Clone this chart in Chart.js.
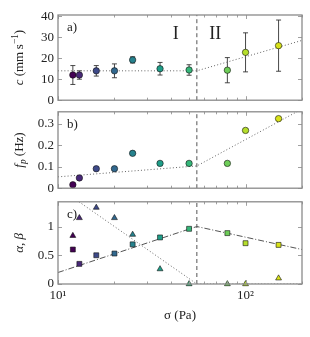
<!DOCTYPE html>
<html>
<head>
<meta charset="utf-8">
<script src="https://cdn.jsdelivr.net/npm/chart.js@4.4.0/dist/chart.umd.min.js"></script>
<style>
  html, body { margin: 0; padding: 0; background: #fff; }
  #wrap { position: relative; width: 310px; height: 337px; }
  canvas { position: absolute; left: 0; }
</style>
</head>
<body>
<div id="wrap">
  <canvas id="panelA" width="310" height="112" style="top:0px"></canvas>
  <canvas id="panelB" width="310" height="100" style="top:100px"></canvas>
  <canvas id="panelC" width="310" height="147" style="top:190px"></canvas>
</div>
<script>
// stress of each run (Pa) and its colour (viridis)
var sigma = [12, 13, 16, 20, 25, 35, 50, 80, 100, 150];
var colors = ['#440154', '#482878', '#3e4a89', '#31688e', '#26828e', '#1f9e89', '#35b779', '#6ece58', '#b5de2b', '#d8e219'];

// a) speed c (mm/s) with error bars
var cVal = [12, 12, 14, 14, 19.2, 15, 14.4, 14.3, 22.8, 26];
var cErr = [4.5, 2, 2.5, 3.3, 1.5, 3, 2.5, 6, 9.3, 12.2];
// b) peak frequency f_p (Hz)
var fpVal = [0.016, 0.048, 0.091, 0.091, 0.163, 0.116, 0.116, 0.116, 0.27, 0.325];
// c) alpha (squares) and beta (triangles)
var alphaVal = [0.6, 0.35, 0.5, 0.53, 0.69, 0.81, 0.96, 0.885, 0.71, 0.68];
var betaVal = [0.84, 1.15, 1.33, 1.15, 0.86, 0.26, 0, 0, 0, 0.1];

// piecewise fits, break at sigmaCross
var sigmaCross = 55;
var fitX = [10, 55, 200];
var cFit = [14, 14, 28.5];
var fpFit = [0.053, 0.104, 0.37];
var alphaFit = [0.2, 1.0, 0.6];
var betaFit = [1.685, 0, 0];

// ticks
var xMajor = [10, 100];
var xMinor = [20, 30, 40, 50, 60, 70, 80, 90, 200];
var cTicks = [0, 10, 20, 30, 40];
var fpTicks = [0, 0.1, 0.2, 0.3];
var abTicks = [0, 0.5, 1];

var SERIF = '"Liberation Serif", "DejaVu Serif", serif';

function pts(ys) {
  return sigma.map(function (s, i) { return {x: s, y: ys[i]}; });
}
function fitPts(ys) {
  return fitX.map(function (s, i) { return {x: s, y: ys[i]}; });
}

// frame + inward ticks, pgfplots style
function frameTicks(yTicks) {
  return {
    id: 'frameTicks',
    afterDatasetsDraw: function (chart) {
      var ctx = chart.ctx, a = chart.chartArea;
      var xs = chart.scales.x, ys = chart.scales.y;
      ctx.save();
      ctx.strokeStyle = '#a0a0a0';
      ctx.lineWidth = 1;
      ctx.beginPath();
      xMajor.concat(xMinor).forEach(function (v) {
        var len = xMajor.indexOf(v) >= 0 ? 4 : 2.5;
        var px = Math.round(xs.getPixelForValue(v)) + 0.5;
        ctx.moveTo(px, a.bottom); ctx.lineTo(px, a.bottom - len);
        ctx.moveTo(px, a.top); ctx.lineTo(px, a.top + len);
      });
      yTicks.forEach(function (v) {
        var py = Math.round(ys.getPixelForValue(v)) + 0.5;
        ctx.moveTo(a.left, py); ctx.lineTo(a.left + 4, py);
        ctx.moveTo(a.right, py); ctx.lineTo(a.right - 4, py);
      });
      ctx.stroke();
      ctx.strokeStyle = '#8a8a8a';
      ctx.lineWidth = 1.3;
      ctx.strokeRect(a.left, a.top, a.right - a.left, a.bottom - a.top);
      ctx.restore();
    }
  };
}

function drawRich(ctx, parts, cx, cy, size) {
  function fontOf(p) {
    return (p.it ? 'italic ' : '') + (p.small ? size * 0.72 : size) + 'px ' + SERIF;
  }
  ctx.save();
  ctx.translate(cx, cy);
  ctx.rotate(-Math.PI / 2);
  var w = 0;
  parts.forEach(function (p) { ctx.font = fontOf(p); w += ctx.measureText(p.t).width; });
  var x = -w / 2;
  ctx.textBaseline = 'middle';
  ctx.textAlign = 'left';
  ctx.fillStyle = '#222';
  parts.forEach(function (p) {
    ctx.font = fontOf(p);
    var dy = p.sup ? -size * 0.35 : (p.sub ? size * 0.28 : 0);
    ctx.fillText(p.t, x, dy);
    x += ctx.measureText(p.t).width;
  });
  ctx.restore();
}

// panel letter + rotated y title
function labels(letter, title, extra) {
  return {
    id: 'labels',
    afterDraw: function (chart) {
      var ctx = chart.ctx, a = chart.chartArea;
      ctx.save();
      ctx.fillStyle = '#222';
      ctx.font = '13px ' + SERIF;
      ctx.textBaseline = 'middle';
      ctx.fillText(letter, a.left + 9, a.top + 13);
      ctx.restore();
      drawRich(ctx, title, 20, (a.top + a.bottom) / 2, 13);
      if (extra) extra(chart);
    }
  };
}

var errorBars = {
  id: 'errorBars',
  beforeDatasetsDraw: function (chart) {
    var ctx = chart.ctx, xs = chart.scales.x, ys = chart.scales.y;
    ctx.save();
    ctx.strokeStyle = '#333';
    ctx.lineWidth = 0.9;
    ctx.beginPath();
    sigma.forEach(function (s, i) {
      var px = xs.getPixelForValue(s);
      var top = ys.getPixelForValue(cVal[i] + cErr[i]);
      var bot = ys.getPixelForValue(cVal[i] - cErr[i]);
      ctx.moveTo(px, top); ctx.lineTo(px, bot);
      ctx.moveTo(px - 2.5, top); ctx.lineTo(px + 2.5, top);
      ctx.moveTo(px - 2.5, bot); ctx.lineTo(px + 2.5, bot);
    });
    ctx.stroke();
    ctx.restore();
  }
};

function regimeText(chart) {
  var ctx = chart.ctx, xs = chart.scales.x, ys = chart.scales.y;
  ctx.save();
  ctx.fillStyle = '#222';
  ctx.font = '18px ' + SERIF;
  ctx.textAlign = 'center';
  ctx.textBaseline = 'middle';
  ctx.fillText('I', xs.getPixelForValue(42.5), ys.getPixelForValue(31.5));
  ctx.fillText('II', xs.getPixelForValue(69), ys.getPixelForValue(31.5));
  ctx.restore();
}

function markerSet(ys, style, r) {
  return {
    data: pts(ys), showLine: false, pointStyle: style, clip: false,
    pointRadius: r, backgroundColor: colors, borderColor: '#111', borderWidth: 0.6
  };
}
function lineSet(ys, dash, color) {
  return {
    data: fitPts(ys), showLine: true, pointRadius: 0,
    borderColor: color, borderWidth: 1, borderDash: dash, fill: false
  };
}
function crossSet(max) {
  return {
    data: [{x: sigmaCross, y: 0}, {x: sigmaCross, y: max}], showLine: true, pointRadius: 0,
    borderColor: '#555', borderWidth: 1, borderDash: [4, 3]
  };
}

function yScale(max, ticks) {
  return {
    type: 'linear', min: 0, max: max,
    afterBuildTicks: function (s) { s.ticks = ticks.map(function (v) { return {value: v}; }); },
    afterFit: function (s) { s.width = 58; },
    grid: {display: false, drawTicks: false},
    border: {display: false},
    ticks: {
      padding: 4, color: '#222', font: {family: SERIF, size: 13},
      callback: function (v) { return String(v); }
    }
  };
}
function xHidden() {
  return {type: 'logarithmic', min: 10, max: 200, display: false};
}

var common = {
  responsive: false, animation: false,
  plugins: {legend: {display: false}, tooltip: {enabled: false}}
};

// a) speed
new Chart(document.getElementById('panelA'), {
  type: 'scatter',
  data: {datasets: [
    markerSet(cVal, 'circle', 3.2),
    lineSet(cFit, [1, 2.2], '#666'),
    crossSet(41)
  ]},
  options: Object.assign({}, common, {
    layout: {padding: {top: 15, bottom: 9, left: 0, right: 8}},
    scales: {x: xHidden(), y: yScale(40.6, cTicks)}
  }),
  plugins: [errorBars, frameTicks(cTicks), labels('a)', [
    {t: 'c', it: true}, {t: ' (mm\u2009s'}, {t: '\u22121', sup: true, small: true}, {t: ')'}
  ], regimeText)]
});

// b) peak frequency
new Chart(document.getElementById('panelB'), {
  type: 'scatter',
  data: {datasets: [
    markerSet(fpVal, 'circle', 3.2),
    lineSet(fpFit, [1, 2.2], '#666'),
    crossSet(0.36)
  ]},
  options: Object.assign({}, common, {
    layout: {padding: {top: 7, bottom: 6, left: 0, right: 8}},
    scales: {x: xHidden(), y: yScale(0.357, fpTicks)}
  }),
  plugins: [frameTicks(fpTicks), labels('b)', [
    {t: 'f', it: true}, {t: 'p', it: true, sub: true, small: true}, {t: ' (Hz)'}
  ])]
});

// c) alpha, beta
new Chart(document.getElementById('panelC'), {
  type: 'scatter',
  data: {datasets: [
    markerSet(alphaVal, 'rect', 3.5),
    markerSet(betaVal, 'triangle', 3.4),
    lineSet(alphaFit, [6, 2, 1, 2], '#555'),
    lineSet(betaFit, [1, 2.2], '#666'),
    crossSet(1.43)
  ]},
  options: Object.assign({}, common, {
    layout: {padding: {top: 7.3, bottom: 13, left: 0, right: 8}},
    scales: {
      x: {
        type: 'logarithmic', min: 10, max: 200,
        afterBuildTicks: function (s) { s.ticks = xMajor.map(function (v) { return {value: v}; }); },
        afterFit: function (s) { s.height = 40; },
        grid: {display: false, drawTicks: false},
        border: {display: false},
        ticks: {
          autoSkip: false, maxRotation: 0, padding: 4, color: '#222',
          font: {family: SERIF, size: 13},
          callback: function (v) { return v === 10 ? '10\u00b9' : (v === 100 ? '10\u00b2' : ''); }
        },
        title: {display: true, text: '\u03c3 (Pa)', color: '#222', font: {family: SERIF, size: 13}, padding: {top: 0, bottom: 1}}
      },
      y: yScale(1.43, abTicks)
    }
  }),
  plugins: [frameTicks(abTicks), labels('c)', [
    {t: '\u03b1', it: true}, {t: ', '}, {t: '\u03b2', it: true}
  ])]
});
</script>
</body>
</html>
